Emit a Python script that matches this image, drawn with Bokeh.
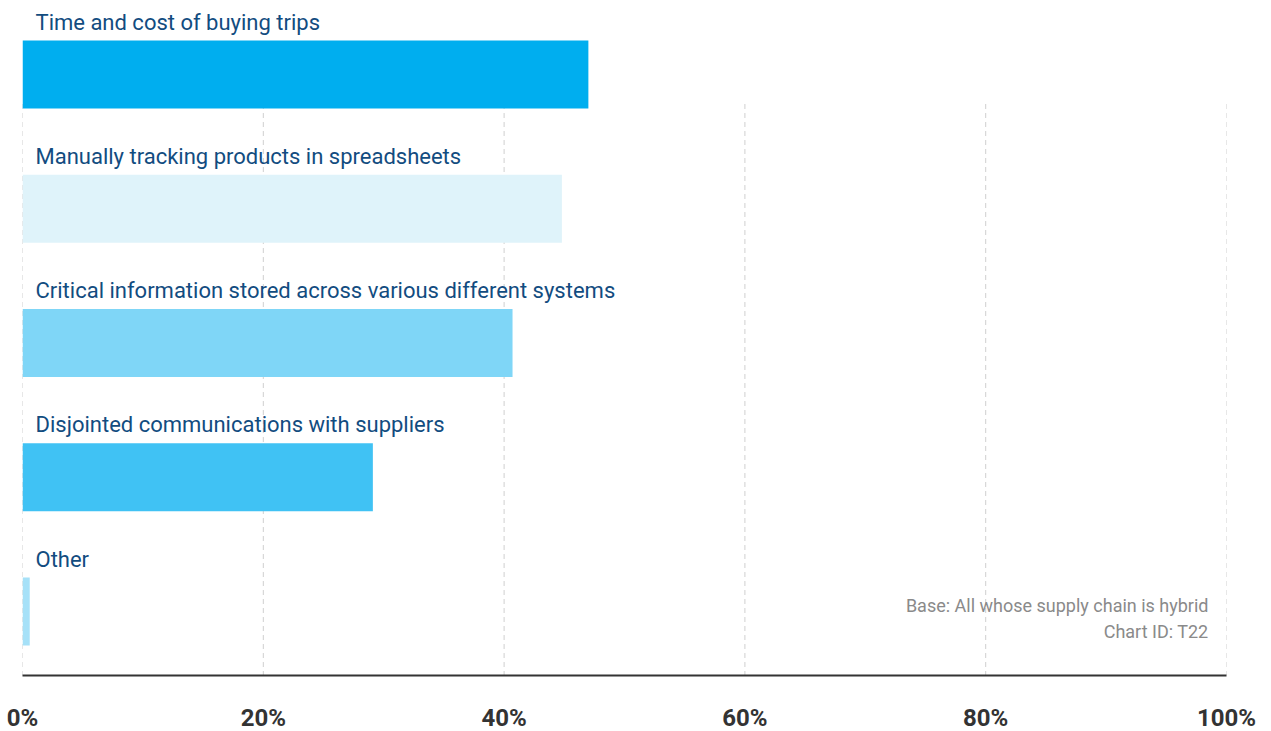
from bokeh.plotting import figure
from bokeh.models import ColumnDataSource, FixedTicker, PrintfTickFormatter, Label, Range1d
from bokeh.core.properties import value
from bokeh.embed import file_html
from bokeh.resources import INLINE

categories = [
    "Time and cost of buying trips",
    "Manually tracking products in spreadsheets",
    "Critical information stored across various different systems",
    "Disjointed communications with suppliers",
    "Other",
]
values = [47.0, 44.8, 40.7, 29.1, 0.6]
colors = ["#00AEEF", "#DFF3FA", "#7FD6F7", "#40C2F4", "#A6E1F8"]
tick_values = [0, 20, 40, 60, 80, 100]
footnotes = ["Base: All whose supply chain is hybrid", "Chart ID: T22"]

pos = list(range(len(categories)))
src = ColumnDataSource(dict(
    y=pos,
    val=values,
    color=colors,
    cat=categories,
    label_y=[p - 0.39 for p in pos],
    zero=[0] * len(pos),
))

p = figure(frame_width=1204, frame_height=675, output_backend="svg", toolbar_location=None,
           x_range=Range1d(0, 100), y_range=Range1d(4.477, -0.5512),
           min_border_left=22, min_border_right=36, min_border_top=0, min_border_bottom=0)
p.outline_line_color = None
p.background_fill_color = "white"
p.border_fill_color = "white"

# grid lines (dashed), starting just below the first bar
grid_src = ColumnDataSource(dict(x=tick_values, y0=[0.22] * len(tick_values),
                                 y1=[4.477] * len(tick_values)))
p.segment(x0="x", x1="x", y0="y0", y1="y1", source=grid_src,
          line_color="#CFCFCF", line_width=1, line_dash="5 4")

p.hbar(y="y", left=0, right="val", height=0.507, fill_color="color",
       line_color=None, source=src)

p.text(x="zero", y="label_y", text="cat", source=src, x_offset=13,
       text_font=value("Roboto"), text_font_size="22px", text_color="#124C80",
       text_baseline="middle", text_align="left")

for i, t in enumerate(footnotes):
    p.add_layout(Label(x=100, y=3.955 + i * 0.194, text=t, x_offset=-18,
                       text_align="right", text_baseline="middle",
                       text_font="Roboto", text_font_size="18px",
                       text_color="#8A8A8A"))

p.xgrid.visible = False
p.ygrid.visible = False
p.yaxis.visible = False

ax = p.xaxis[0]
ax.ticker = FixedTicker(ticks=tick_values)
ax.formatter = PrintfTickFormatter(format="%d%%")
ax.axis_line_color = "#333333"
ax.axis_line_width = 2
ax.major_tick_line_color = None
ax.minor_tick_line_color = None
ax.major_tick_out = 0
ax.major_tick_in = 0
ax.major_label_standoff = 28
ax.major_label_text_line_height = 1.0
ax.major_label_text_font = "Roboto"
ax.major_label_text_font_style = "bold"
ax.major_label_text_font_size = "24px"
ax.major_label_text_color = "#333333"

open("out.html", "w").write(file_html(p, INLINE))
